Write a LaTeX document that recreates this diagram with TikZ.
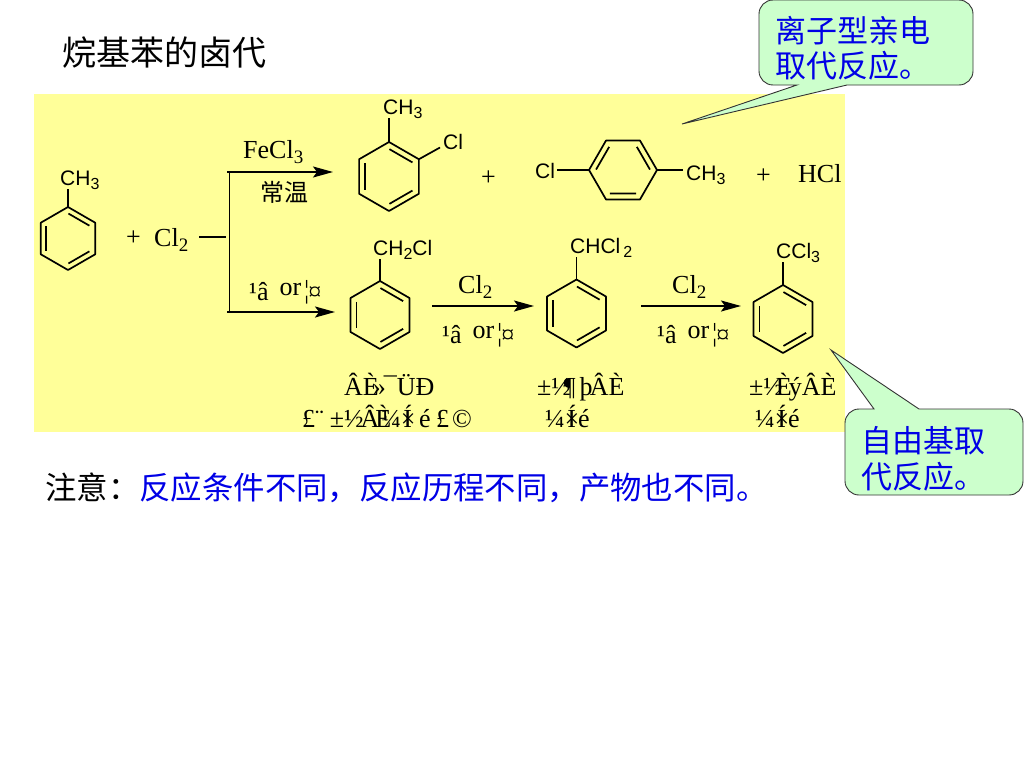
\documentclass[tikz,border=0pt]{standalone}
\usepackage{fontspec}
\setmainfont{Liberation Serif}
\setsansfont{Liberation Sans}
\newfontfamily\cjk{Noto Sans CJK SC}
\usetikzlibrary{arrows.meta}

\definecolor{panelyellow}{HTML}{FFFF99}
\definecolor{notegreen}{HTML}{CCFFCC}
\definecolor{noteblue}{HTML}{0000E6}

\newcommand{\lowsf}[1]{\raisebox{-4pt}{\fontsize{16}{16}\selectfont #1}}
\newcommand{\lowrm}[1]{\raisebox{-5pt}{\fontsize{19}{19}\selectfont #1}}
\newcommand{\kn}[1]{\kern#1pt\relax}
\newcommand{\lightheat}{¹â\kn{11}\raisebox{5pt}{or}\kn{3}\raisebox{2pt}{¦}\kn{-1}¤}

\tikzset{
    chem/.style={inner sep=0pt, anchor=base west, font=\sffamily\fontsize{21}{21}\selectfont},
    serif/.style={inner sep=0pt, anchor=base west, font=\rmfamily\fontsize{26}{26}\selectfont},
    bond/.style={line width=1.7pt},
    react/.style={line width=1.9pt, -{Stealth[length=20pt,width=11pt,inset=4pt]}},
    note/.style={draw=black!80, fill=notegreen, line width=0.9pt},
    pics/benzring/.style={code={
        \coordinate (-a) at (90:#1pt);
        \coordinate (-b) at (150:#1pt);
        \coordinate (-c) at (210:#1pt);
        \coordinate (-d) at (270:#1pt);
        \coordinate (-e) at (330:#1pt);
        \coordinate (-f) at (30:#1pt);
        \draw[bond, line join=round] (-a) -- (-b) -- (-c) -- (-d) -- (-e) -- (-f) -- cycle;
        \draw[bond, shorten <=.5pt, shorten >=.5pt] (150:.8*#1pt) -- (210:.8*#1pt);
        \draw[bond, shorten <=.5pt, shorten >=.5pt] (90:.8*#1pt) -- (30:.8*#1pt);
        \draw[bond, shorten <=.5pt, shorten >=.5pt] (330:.8*#1pt) -- (270:.8*#1pt);
    }}
}

\begin{document}
\begin{tikzpicture}[x=1pt, y=-1pt]
    \useasboundingbox (0,0) rectangle (1024,768);
    \fill[panelyellow] (34,94) rectangle (845,432);

    \node (title) at (62,65) [anchor=base west, inner sep=0pt, font=\cjk\fontsize{34}{34}\selectfont] {烷基苯的卤代};

    %-----

    \pic (tol) at (68,238.5) {benzring=31.5};
    \node (tolme) at (60,185) [chem] {CH\lowsf{3}};
    \draw[bond] (tol-a) -- (tol-a |- tolme.south);
    \node (plusA) at (126,245) [serif] {+};
    \node (clA) at (154,246) [serif] {Cl\lowrm{2}};

    \coordinate (forkT) at (227,172);
    \coordinate (forkB) at (227,312);
    \coordinate (forkS) at (199,237);
    \coordinate (forkM) at (226,237);
    \coordinate (endT) at (333,172);
    \coordinate (endB) at (335,312);
    \draw[react] (forkT) -- (endT);
    \draw[react] (forkB) -- (endB);
    \draw[line width=1.9pt] (229.5,172) -- (229.5,312);
    \draw[line width=1.9pt] (forkS) -- (forkM);
    \node (fecl) at (243,158) [serif] {FeCl\lowrm{3}};
    \node (rt) at (260,201) [anchor=base west, inner sep=0pt, font=\cjk\fontsize{24}{24}\selectfont] {常温};
    \node (lhA) at (249,300) [serif] {\lightheat};

    %-----

    \pic (ortho) at (389,176.5) {benzring=34.5};
    \node (orthome) at (383,114) [chem] {CH\lowsf{3}};
    \node (orthocl) at (443,149) [chem] {Cl};
    \coordinate (orthoend) at (440,147.5);
    \draw[bond] (ortho-a) -- (ortho-a |- orthome.south);
    \draw[bond] (ortho-f) -- (orthoend);
    \node (plusB) at (481,185) [serif] {+};

    \pic (para) [rotate=-30] at (623,170) {benzring=34};
    \node (paracl) at (535,178) [chem] {Cl};
    \node (parame) at (686,180) [chem] {CH\lowsf{3}};
    \draw[bond, shorten >=2pt] (para-c) -- (paracl.east |- para-c);
    \draw[bond, shorten >=3pt] (para-f) -- (parame.west |- para-f);
    \node (plusC) at (756,183) [serif] {+};
    \node (hcl) at (798,182) [serif] {HCl};

    %-----

    \pic (mono) at (380,315) {benzring=34};
    \node (monogrp) at (373,255) [chem] {CH\lowsf{2}Cl};
    \draw[bond] (mono-a) -- (mono-a |- monogrp.south);
    \node (clB) at (458,293) [serif] {Cl\lowrm{2}};
    \node (lhB) at (442,343) [serif] {\lightheat};
    \coordinate (stepAs) at (432,306);
    \coordinate (stepAe) at (534,306);
    \draw[react] (stepAs) -- (stepAe);

    \pic (di) at (576.5,313.5) {benzring=34};
    \node (digrp) at (570,253) [chem] {CHCl\kn{3}\lowsf{2}};
    \draw[bond] (di-a) -- (di-a |- digrp.south);
    \node (clC) at (672,293) [serif] {Cl\lowrm{2}};
    \node (lhC) at (657,343) [serif] {\lightheat};
    \coordinate (stepBs) at (641,306);
    \coordinate (stepBe) at (741,306);
    \draw[react] (stepBs) -- (stepBe);

    \pic (tri) at (783,319) {benzring=34};
    \node (trigrp) at (776,258) [chem] {CCl\lowsf{3}};
    \draw[bond] (tri-a) -- (tri-a |- trigrp.south);

    %-----

    \node (nameAa) at (344,395) [serif] {ÂÈ\kn{-6}»\kn{-2}¯\kn{0}ÜÐ};
    \node (nameAb) at (302,427) [serif] {£¨\kn{6}±½\kn{-3}Â\kn{-4}È\kn{-10}¼×\kn{-12}Í\kn{7}é\kn{5.5}£\kn{3}©};
    \node (nameBa) at (537,395) [serif] {±½\kn{-7}¶\kn{4}þ\kn{-3}ÂÈ};
    \node (nameBb) at (545,427) [serif] {¼×\kn{-12}Í\kn{2}é};
    \node (nameCa) at (749,395) [serif] {±½\kn{-7}È\kn{-3}ýÂÈ};
    \node (nameCb) at (755,427) [serif] {¼×\kn{-12}Í\kn{2}é};

    %-----

    \node (warn) at (45,499) [anchor=base west, inner sep=0pt, font=\cjk\fontsize{31.4}{31.4}\selectfont] {注意：\textcolor{noteblue}{反应条件不同，反应历程不同，产物也不同。}};

    %-----

    \coordinate (tipA) at (682,124);
    \draw[note] (tipA) -- (797,85) [rounded corners=14pt] -- (759,85) -- (759,0) -- (973,0) -- (973,85)
        [sharp corners] -- (847,85) -- cycle;
    \node (noteA) at (775,48.5) [anchor=west, inner sep=0pt, align=left, text=noteblue, font=\cjk\fontsize{31}{35}\selectfont] {离子型亲电\\取代反应。};

    \coordinate (tipB) at (831,350);
    \draw[note] (tipB) -- (874,409) [rounded corners=14pt] -- (845,409) -- (845,495) -- (1023,495) -- (1023,409)
        [sharp corners] -- (919,409) -- cycle;
    \node (noteB) at (861,459) [anchor=west, inner sep=0pt, align=left, text=noteblue, font=\cjk\fontsize{31}{36}\selectfont] {自由基取\\代反应。};
\end{tikzpicture}
\end{document}
